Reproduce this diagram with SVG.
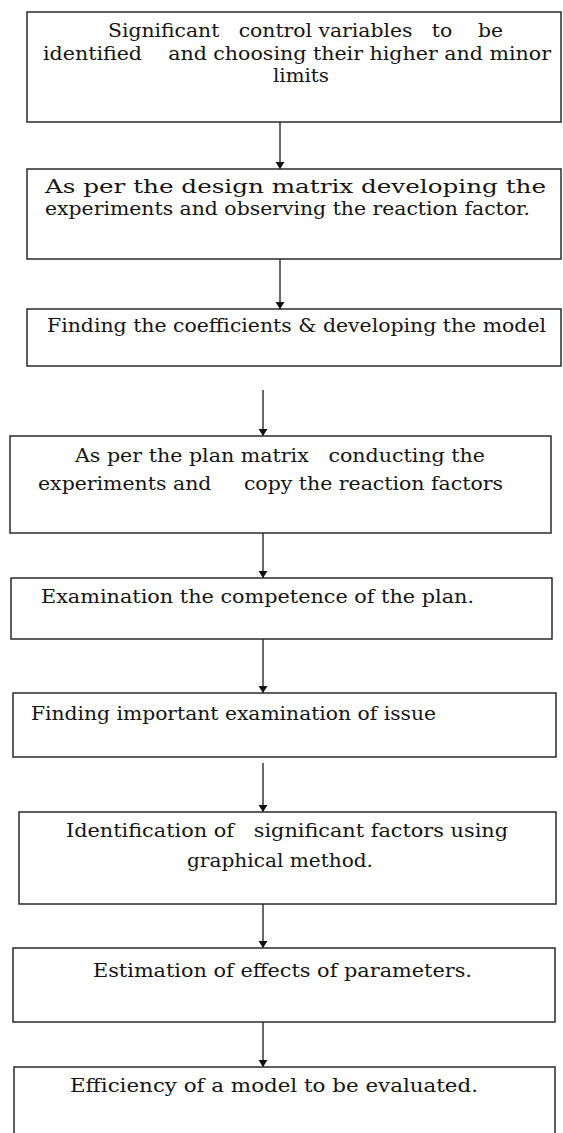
<svg xmlns="http://www.w3.org/2000/svg" width="563" height="1133" viewBox="0 0 563 1133">
<style>
.box{fill:#fff;stroke:#2a2a2a;stroke-width:1.5}
.t{font-family:'DejaVu Serif','Liberation Serif',serif;font-size:18px;fill:#141414}
.c{stroke:#1a1a1a;stroke-width:1.3;fill:none}
</style>
<defs>
<marker id="ah" markerWidth="8" markerHeight="10" refX="7" refY="4.5" orient="auto" markerUnits="userSpaceOnUse"><path d="M0,0 L7,4.5 L0,9 z" fill="#111"/></marker>
</defs>
<rect width="563" height="1133" fill="#fff"/>
<g id="connectors">
<line class="c" x1="280" y1="122" x2="280" y2="169" marker-end="url(#ah)"/>
<line class="c" x1="280" y1="259" x2="280" y2="309" marker-end="url(#ah)"/>
<line class="c" x1="263" y1="390" x2="263" y2="436" marker-end="url(#ah)"/>
<line class="c" x1="263" y1="527" x2="263" y2="578" marker-end="url(#ah)"/>
<line class="c" x1="263" y1="639" x2="263" y2="693" marker-end="url(#ah)"/>
<line class="c" x1="263" y1="763" x2="263" y2="812" marker-end="url(#ah)"/>
<line class="c" x1="263" y1="904" x2="263" y2="948" marker-end="url(#ah)"/>
<line class="c" x1="263" y1="1022" x2="263" y2="1067" marker-end="url(#ah)"/>
</g>
<g id="n1">
<rect class="box" x="27" y="12" width="534" height="110"/>
<text class="t" xml:space="preserve" x="108" y="37" textLength="395" lengthAdjust="spacingAndGlyphs">Significant   control variables   to    be</text>
<text class="t" xml:space="preserve" x="43" y="60" textLength="508" lengthAdjust="spacingAndGlyphs">identified    and choosing their higher and minor</text>
<text class="t" x="273" y="82" textLength="56" lengthAdjust="spacingAndGlyphs">limits</text>
</g>
<g id="n2">
<rect class="box" x="27" y="169" width="534" height="90"/>
<text class="t" xml:space="preserve" x="45" y="193" textLength="501" lengthAdjust="spacingAndGlyphs">As per the design matrix developing the</text>
<text class="t" x="45" y="215" textLength="485" lengthAdjust="spacingAndGlyphs">experiments and observing the reaction factor.</text>
</g>
<g id="n3">
<rect class="box" x="27" y="309" width="534" height="57"/>
<text class="t" x="47" y="332" textLength="499" lengthAdjust="spacingAndGlyphs">Finding the coefficients &amp; developing the model</text>
</g>
<g id="n4">
<rect class="box" x="10" y="436" width="541" height="97"/>
<text class="t" xml:space="preserve" x="75" y="462" textLength="410" lengthAdjust="spacingAndGlyphs">As per the plan matrix   conducting the</text>
<text class="t" xml:space="preserve" x="38" y="490" textLength="465" lengthAdjust="spacingAndGlyphs">experiments and     copy the reaction factors</text>
</g>
<g id="n5">
<rect class="box" x="11" y="578" width="541" height="61"/>
<text class="t" x="41" y="603" textLength="433" lengthAdjust="spacingAndGlyphs">Examination the competence of the plan.</text>
</g>
<g id="n6">
<rect class="box" x="13" y="693" width="543" height="64"/>
<text class="t" x="31" y="720" textLength="405" lengthAdjust="spacingAndGlyphs">Finding important examination of issue</text>
</g>
<g id="n7">
<rect class="box" x="19" y="812" width="537" height="92"/>
<text class="t" xml:space="preserve" x="66" y="837" textLength="442" lengthAdjust="spacingAndGlyphs">Identification of   significant factors using</text>
<text class="t" x="187" y="867" textLength="186" lengthAdjust="spacingAndGlyphs">graphical method.</text>
</g>
<g id="n8">
<rect class="box" x="13" y="948" width="542" height="74"/>
<text class="t" x="93" y="977" textLength="379" lengthAdjust="spacingAndGlyphs">Estimation of effects of parameters.</text>
</g>
<g id="n9">
<rect class="box" x="14" y="1067" width="541" height="80"/>
<text class="t" x="70" y="1092" textLength="408" lengthAdjust="spacingAndGlyphs">Efficiency of a model to be evaluated.</text>
</g>
</svg>
